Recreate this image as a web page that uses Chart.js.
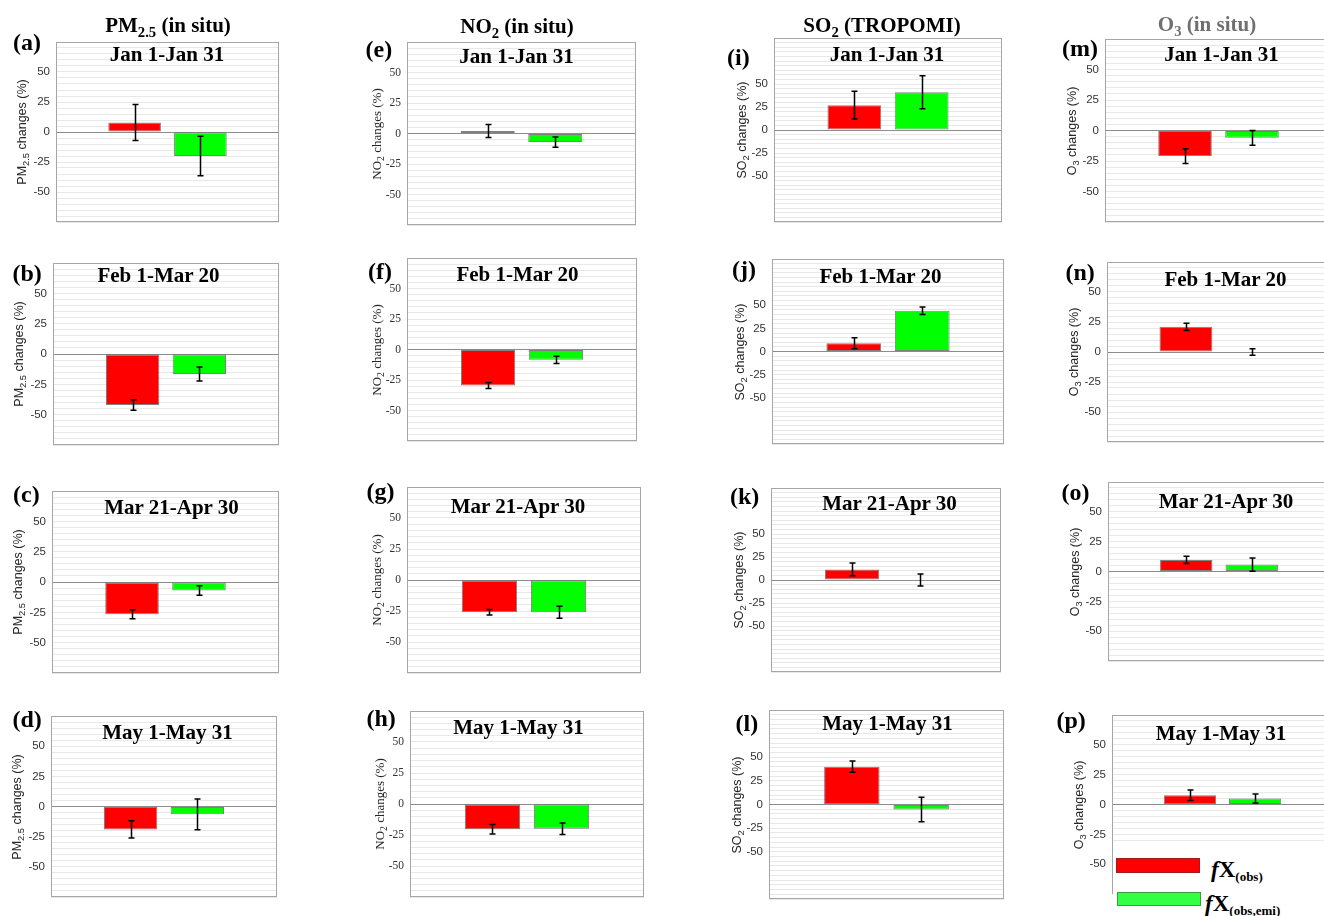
<!DOCTYPE html>
<html>
<head>
<meta charset="utf-8">
<script src="https://cdn.jsdelivr.net/npm/chart.js@4/dist/chart.umd.min.js"></script>
<style>
  html, body { margin: 0; padding: 0; background: #fff; overflow: hidden; }
  body { position: relative; width: 1324px; height: 916px; }
  canvas { position: absolute; }
  .txt { position: absolute; line-height: 1; white-space: nowrap; }
  .txt sub { font-size: 70%; vertical-align: baseline; position: relative; top: 0.32em; line-height: 0; }
  .ylab { position: absolute; line-height: 1; white-space: nowrap; color: #262626;
          transform: translate(-50%, -50%) rotate(-90deg); }
  .ylab sub { font-size: 75%; vertical-align: baseline; position: relative; top: 0.3em; line-height: 0; }
</style>
</head>
<body>
<script>
// --- data ---
const periods = ['Jan 1-Jan 31', 'Feb 1-Mar 20', 'Mar 21-Apr 30', 'May 1-May 31'];
const seriesNames = ['fX(obs)', 'fX(obs,emi)'];

const pm25Obs    = [8, -42, -26.5, -19];
const pm25ObsErr = [15, 4.3, 3.7, 7.2];
const pm25Emi    = [-20, -16.5, -7, -6.5];
const pm25EmiErr = [16.5, 5.8, 4, 12.7];

const no2Obs    = [2, -29.5, -26, -20.3];
const no2ObsErr = [5.3, 2.5, 2.3, 3.8];
const no2Emi    = [-7, -8.5, -26, -20];
const no2EmiErr = [4.2, 3, 4.8, 4.6];

const so2Obs    = [27, 9, 11.5, 40];
const so2ObsErr = [15, 6, 7, 6];
const so2Emi    = [41, 44, 0, -5.3];
const so2EmiErr = [18, 4, 6.5, 13];

const o3Obs    = [-21, 21, 9.7, 7.75];
const o3ObsErr = [6, 3, 3, 4.5];
const o3Emi    = [-6, 0, 5.8, 5];
const o3EmiErr = [6, 2.8, 5.5, 3.7];

const yLimits = [75, 75, 100, 75];
const tickValues = [-50, -25, 0, 25, 50];

const columnHeaders = ['PM<sub>2.5</sub> (in situ)', 'NO<sub>2</sub> (in situ)', 'SO<sub>2</sub> (TROPOMI)', 'O<sub>3</sub> (in situ)'];
const yTitles = ['PM<sub>2.5</sub> changes (%)', 'NO<sub>2</sub> changes (%)', 'SO<sub>2</sub> changes (%)', 'O<sub>3</sub> changes (%)'];
const letters = [['a', 'b', 'c', 'd'], ['e', 'f', 'g', 'h'], ['i', 'j', 'k', 'l'], ['m', 'n', 'o', 'p']];

const obsValues = [pm25Obs, no2Obs, so2Obs, o3Obs];
const obsErrors = [pm25ObsErr, no2ObsErr, so2ObsErr, o3ObsErr];
const emiValues = [pm25Emi, no2Emi, so2Emi, o3Emi];
const emiErrors = [pm25EmiErr, no2EmiErr, so2EmiErr, o3EmiErr];

// --- layout (box left, top, right, bottom per panel) ---
const boxes = [
  [[56, 42, 279, 222], [53, 263, 279, 445], [52, 491, 279, 673], [51, 716, 277, 897]],
  [[407, 42, 636, 225], [407, 258, 637, 441], [407, 487, 641, 673], [410, 711, 644, 897]],
  [[774, 38, 1002, 222], [772, 259, 1004, 444], [771, 488, 1001, 672], [769, 710, 1004, 899]],
  [[1105, 39, 1332, 222], [1107, 262, 1331, 442], [1108, 482, 1330, 661], [1112, 715, 1333, 894]]
];
const titlePos = [
  [[167, 60], [158.5, 281], [171.5, 512.5], [167.5, 737.5]],
  [[516.5, 61.5], [517.5, 280], [518, 511.5], [518.5, 732.5]],
  [[887, 60], [880.5, 281.5], [889.5, 508.5], [887.5, 729]],
  [[1221.5, 59.5], [1225.5, 285], [1226, 506.5], [1221, 738.5]]
];
const letterPos = [
  [[13, 49.5], [12.5, 280], [13, 501.5], [12.5, 726.5]],
  [[365.5, 56.5], [368, 278], [366.5, 498], [366.5, 725]],
  [[727, 64], [732, 276.5], [730, 503.5], [735.5, 730.5]],
  [[1062, 55], [1065.5, 279], [1061.5, 499], [1056.5, 727.5]]
];
const headerPos = [[168, 31], [517, 32], [882, 31], [1207, 30]];
const yTitleOffset = [34, 30.5, 32, 33];

const SERIF = '"Liberation Serif", "Times New Roman", serif';
const SANS = '"Liberation Sans", Arial, sans-serif';

/** text helper: x is centre (or left), y is baseline */
function addText(html, x, baseline, size, family, opts = {}) {
  const d = document.createElement('div');
  d.className = 'txt';
  d.innerHTML = html;
  const asc = family === SERIF ? 0.8375 : 0.8465;
  d.style.left = x + 'px';
  d.style.top = (baseline - asc * size) + 'px';
  d.style.font = `${opts.weight || 'bold'} ${size}px ${family}`;
  d.style.color = opts.color || '#000';
  if (opts.center) d.style.transform = 'translateX(-50%)';
  d.style.zIndex = opts.z || 5;
  document.body.appendChild(d);
  return d;
}

// --- plugins ---
const boxPlugin = {
  id: 'boxFrame',
  afterDraw(chart) {
    const { left, top, right, bottom } = chart.chartArea;
    const ctx = chart.ctx;
    ctx.save();
    ctx.strokeStyle = '#a6a6a6';
    ctx.lineWidth = 1;
    ctx.strokeRect(left + 0.5, top + 0.5, right - left - 1, bottom - top - 1);
    ctx.restore();
  }
};

const errorBarPlugin = {
  id: 'errorBars',
  afterDatasetsDraw(chart, args, opts) {
    const ctx = chart.ctx;
    const y = chart.scales.y;
    ctx.save();
    ctx.strokeStyle = '#000';
    ctx.lineWidth = 1.5;
    chart.data.datasets.forEach((ds, i) => {
      const bar = chart.getDatasetMeta(i).data[0];
      const v = ds.data[0];
      const e = opts.errors[i];
      const yTop = y.getPixelForValue(v + e);
      const yBot = y.getPixelForValue(v - e);
      const x = Math.round(bar.x) + 0.5;
      ctx.beginPath();
      ctx.moveTo(x, yTop); ctx.lineTo(x, yBot);
      ctx.moveTo(x - 3, yTop); ctx.lineTo(x + 3, yTop);
      ctx.moveTo(x - 3, yBot); ctx.lineTo(x + 3, yBot);
      ctx.stroke();
    });
    ctx.restore();
  }
};

// --- panels ---
function makePanel(col, row) {
  const [l, t, r, b] = boxes[col][row];
  const lim = yLimits[col];
  const w = r - l + 52, h = b - t + 4;
  const canvas = document.createElement('canvas');
  canvas.width = w; canvas.height = h;
  canvas.style.left = (l - 50) + 'px';
  canvas.style.top = (t - 2) + 'px';
  canvas.style.zIndex = 1;
  document.body.appendChild(canvas);

  const tickFamily = col === 1 ? SERIF : SANS;

  new Chart(canvas, {
    type: 'bar',
    data: {
      labels: [periods[row]],
      datasets: [
        { label: seriesNames[0], data: [obsValues[col][row]], backgroundColor: '#ff0000',
          borderColor: 'rgba(60,60,60,0.65)', borderWidth: 1, borderSkipped: false,
          categoryPercentage: 0.59, barPercentage: 0.8 },
        { label: seriesNames[1], data: [emiValues[col][row]], backgroundColor: '#00ff00',
          borderColor: 'rgba(60,60,60,0.65)', borderWidth: 1, borderSkipped: false,
          categoryPercentage: 0.59, barPercentage: 0.8 }
      ]
    },
    options: {
      responsive: false,
      animation: false,
      events: [],
      layout: { padding: { top: 2, right: 2, bottom: 2, left: 0 }, autoPadding: false },
      plugins: {
        legend: { display: false },
        tooltip: { enabled: false },
        errorBars: { errors: [obsErrors[col][row], emiErrors[col][row]] }
      },
      scales: {
        x: { display: false },
        y: {
          min: -lim,
          max: lim,
          afterFit(axis) {
            axis.width = 50;
            axis.paddingTop = 0;
            axis.paddingBottom = 0;
          },
          border: { display: false },
          grid: {
            drawTicks: false,
            lineWidth: 1,
            color: c => (c.tick && c.tick.value === 0) ? '#8c8c8c' : '#e8e8e8'
          },
          ticks: {
            stepSize: 5,
            autoSkip: false,
            padding: 6,
            color: '#333',
            font: { family: tickFamily, size: 11.5 },
            callback: v => tickValues.includes(v) ? String(v) : ''
          }
        }
      }
    },
    plugins: [boxPlugin, errorBarPlugin]
  });

  // period title inside the box
  const [tx, tb] = titlePos[col][row];
  addText(periods[row], tx, tb, 21, SERIF, { center: true });
  // panel letter
  const [lx, lb] = letterPos[col][row];
  addText('(' + letters[col][row] + ')', lx, lb, 24, SERIF);
  // y axis title
  const yl = document.createElement('div');
  yl.className = 'ylab';
  yl.innerHTML = yTitles[col];
  yl.style.left = (l - yTitleOffset[col]) + 'px';
  yl.style.top = ((t + b) / 2) + 'px';
  yl.style.font = col === 1 ? `13px ${SERIF}` : `12.5px ${SANS}`;
  yl.style.zIndex = 5;
  document.body.appendChild(yl);
}

for (let c = 0; c < 4; c++) {
  for (let r = 0; r < 4; r++) makePanel(c, r);
  const [hx, hb] = headerPos[c];
  addText(columnHeaders[c], hx, hb, 21, SERIF, { center: true, color: c === 3 ? '#707070' : '#000' });
}

// --- legend (sits over the lower part of panel p) ---
const cover = document.createElement('div');
cover.style.cssText = 'position:absolute;left:1113px;top:846px;width:230px;height:80px;background:#fff;z-index:3;';
document.body.appendChild(cover);

const swatches = [
  { color: '#ff0000', left: 1116, top: 858, width: 84, height: 15 },
  { color: '#33ff44', left: 1117, top: 892, width: 84, height: 14 }
];
swatches.forEach(s => {
  const d = document.createElement('div');
  d.style.cssText = `position:absolute;left:${s.left}px;top:${s.top}px;width:${s.width}px;height:${s.height}px;` +
    `background:${s.color};border:1px solid rgba(60,60,60,0.5);box-sizing:border-box;z-index:4;`;
  document.body.appendChild(d);
});
const legendSub = 'font-size:13px;vertical-align:baseline;position:relative;top:4px;';
addText(`<i>f</i>X<span style="${legendSub}">(obs)</span>`, 1211, 876.5, 23, SERIF, { z: 6 });
addText(`<i>f</i>X<span style="${legendSub}">(obs,emi)</span>`, 1205, 910, 23, SERIF, { z: 6 });
</script>
</body>
</html>
